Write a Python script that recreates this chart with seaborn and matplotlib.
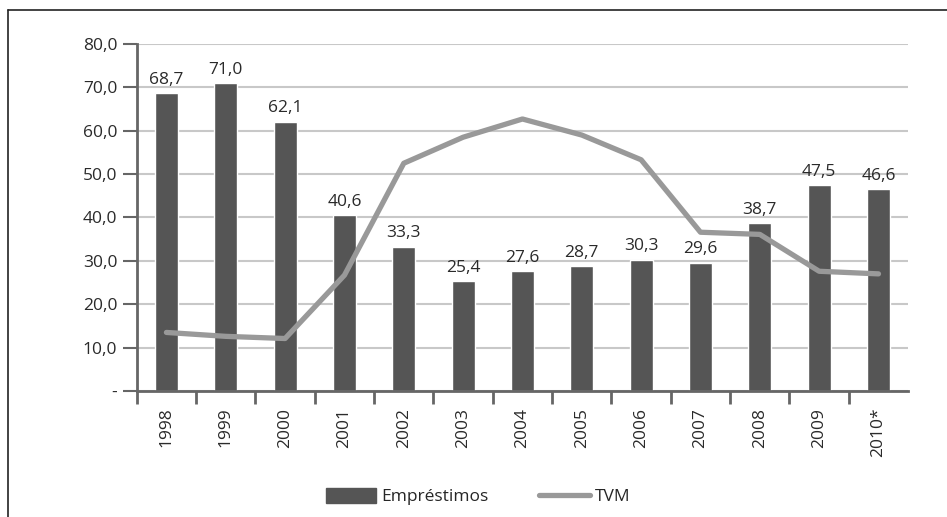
import numpy as np
import matplotlib
matplotlib.use("Agg")
import matplotlib.pyplot as plt
import seaborn as sns
from matplotlib.lines import Line2D
from matplotlib.patches import Patch

years = ["1998", "1999", "2000", "2001", "2002", "2003", "2004",
         "2005", "2006", "2007", "2008", "2009", "2010*"]
emprestimos = [68.7, 71.0, 62.1, 40.6, 33.3, 25.4, 27.6, 28.7, 30.3, 29.6, 38.7, 47.5, 46.6]
tvm = [13.5, 12.6, 12.1, 26.7, 52.5, 58.5, 62.7, 59.0, 53.3, 36.6, 36.1, 27.6, 27.0]
y_ticks = [0, 10, 20, 30, 40, 50, 60, 70, 80]

sns.set_theme(style="white")
plt.rcParams['font.family'] = ['Open Sans', 'DejaVu Sans']

bar_color = "#555555"
line_color = "#999999"
text_color = "#2a2a2a"
fs = 12.5

fig = plt.figure(figsize=(9.47, 5.17), dpi=100)
ax = fig.add_axes([0.1444, 0.2437, 0.8146, 0.6713])

# bars
sns.barplot(x=years, y=emprestimos, color=bar_color, width=0.39,
            saturation=1, ax=ax, zorder=2)
# line on the same category positions
sns.lineplot(x=np.arange(len(years)), y=tvm, color=line_color, linewidth=3.8,
             ax=ax, zorder=3)

# value labels over the bars
for i, v in enumerate(emprestimos):
    ax.text(i, v + 1.2, f"{v:.1f}".replace(".", ","), ha="center", va="bottom",
            fontsize=fs, color=text_color, zorder=4)

ax.set_xlim(-0.5, len(years) - 0.5)
ax.set_ylim(0, 80)
ax.set_yticks(y_ticks)
ax.set_yticklabels(["-"] + [f"{t:.1f}".replace(".", ",") for t in y_ticks[1:]],
                   fontsize=fs, color=text_color)
ax.yaxis.grid(True, color="#c8c8c8", linewidth=1.5, zorder=0)
ax.set_axisbelow(True)

# x ticks on the category boundaries, labels at centers
ax.set_xticks(np.arange(len(years)))
ax.set_xticklabels(years, rotation=90, fontsize=fs, color=text_color)
ax.set_xticks(np.arange(-0.5, len(years) - 1, 1), minor=True)
ax.tick_params(axis="x", which="major", length=0, pad=12)
ax.tick_params(axis="x", which="minor", length=9, width=2, color="#666666", direction="out", bottom=True)
ax.tick_params(axis="y", length=10, width=1.5, color="#666666", direction="out", left=True, pad=4)

for s in ["top", "right"]:
    ax.spines[s].set_visible(False)
for s in ["left", "bottom"]:
    ax.spines[s].set_color("#666666")
    ax.spines[s].set_linewidth(2)
ax.set_xlabel("")
ax.set_ylabel("")

# legend at the bottom
handles = [Patch(facecolor=bar_color, edgecolor=bar_color, label="Empréstimos"),
           Line2D([0], [0], color=line_color, linewidth=3.8, label="TVM")]
fig.legend(handles=handles, loc="center", bbox_to_anchor=(0.505, 0.039), ncol=2,
           frameon=False, fontsize=fs, handlelength=2.9, handleheight=0.9,
           columnspacing=2.9, handletextpad=0.3, prop={"size": fs})

# outer frame (top and left edges)
fig.add_artist(Line2D([8 / 947, 8 / 947], [0, 1 - 10 / 517], color="#222222",
                      linewidth=1.2, transform=fig.transFigure))
fig.add_artist(Line2D([8 / 947, 1], [1 - 10 / 517, 1 - 10 / 517], color="#222222",
                      linewidth=1.2, transform=fig.transFigure))

fig.savefig("out.png", dpi=100)
